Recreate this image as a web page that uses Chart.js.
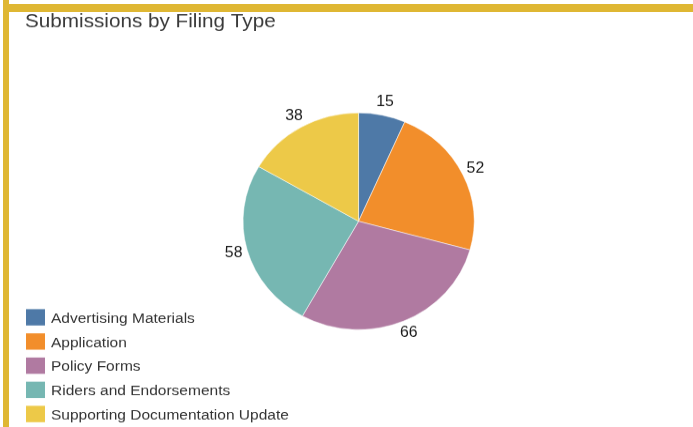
<!DOCTYPE html>
<html>
<head>
<meta charset="utf-8">
<script src="https://cdn.jsdelivr.net/npm/chart.js@4"></script>
<style>
  html, body { margin:0; padding:0; background:#fff; width:693px; height:427px; overflow:hidden; }
  #wrap { position:absolute; left:0; top:0; width:693px; height:455px; transform:scaleY(0.9385); transform-origin:0 0; }
  #c { display:block; }
  .bar { position:absolute; background:#dfb733; }
</style>
</head>
<body>
<div id="wrap"><canvas id="c" width="693" height="455"></canvas></div>
<div class="bar" style="left:3px;top:0;width:5.5px;height:427px;"></div>
<div class="bar" style="left:3px;top:4px;width:690px;height:8px;"></div>
<script>
const chartTitle = "Submissions by Filing Type";
const categories = ["Advertising Materials", "Application", "Policy Forms", "Riders and Endorsements", "Supporting Documentation Update"];
const submissions = [15, 52, 66, 58, 38];
const colors = ["#4e79a7", "#f28e2b", "#b07aa1", "#76b7b2", "#edc948"];

const FONT = '"Liberation Sans", Arial, sans-serif';

const overlay = {
  id: 'overlay',
  afterDatasetsDraw(chart) {
    const ctx = chart.ctx;
    const meta = chart.getDatasetMeta(0);
    const data = chart.data.datasets[0].data;
    ctx.save();
    // value labels
    ctx.font = '15.8px ' + FONT;
    ctx.fillStyle = '#1a1a1a';
    ctx.textAlign = 'center';
    ctx.textBaseline = 'middle';
    meta.data.forEach((arc, i) => {
      const p = arc.getProps(['x','y','startAngle','endAngle','outerRadius'], true);
      const mid = (p.startAngle + p.endAngle) / 2;
      const r = p.outerRadius + 14;
      ctx.fillText(String(data[i]), p.x + Math.cos(mid) * r, p.y + Math.sin(mid) * r);
    });
    // title
    ctx.font = '20.7px ' + FONT;
    ctx.fillStyle = '#3a3a3a';
    ctx.textAlign = 'left';
    ctx.textBaseline = 'alphabetic';
    ctx.fillText(chartTitle, 25, 28.8);
    // legend
    ctx.font = '15.5px ' + FONT;
    chart.data.labels.forEach((lab, i) => {
      const top = 329.4 + i * 25.75;
      ctx.fillStyle = chart.data.datasets[0].backgroundColor[i];
      ctx.fillRect(26, top, 19, 17.4);
      ctx.fillStyle = '#333';
      ctx.fillText(lab, 51, 343.9 + i * 25.75);
    });
    ctx.restore();
  }
};

new Chart(document.getElementById('c'), {
  type: 'pie',
  data: {
    labels: categories,
    datasets: [{
      data: submissions,
      backgroundColor: colors,
      borderColor: '#ffffff',
      borderWidth: 0.5
    }]
  },
  options: {
    responsive: false,
    animation: false,
    devicePixelRatio: 1,
    layout: { padding: { left: 242.6, right: 218.5, top: 120, bottom: 103.5 } },
    plugins: {
      legend: { display: false },
      title: { display: false },
      tooltip: { enabled: false }
    }
  },
  plugins: [overlay]
});
</script>
</body>
</html>
